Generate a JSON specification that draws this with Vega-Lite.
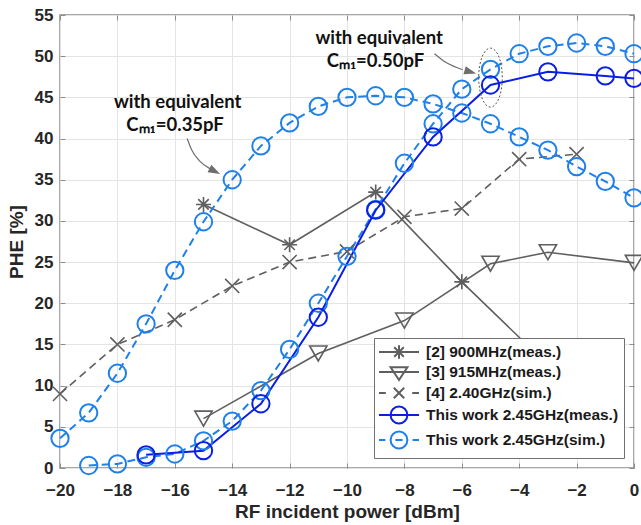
{
  "$schema": "https://vega.github.io/schema/vega-lite/v6.json",
  "width": 574,
  "height": 453,
  "autosize": "none",
  "padding": {"left": 60, "top": 15, "right": 7, "bottom": 57},
  "config": {
    "font": "Liberation Sans",
    "view": {"stroke": "#8c8c8c", "strokeWidth": 1.5},
    "axis": {
      "labelFont": "Liberation Sans", "labelFontSize": 17, "labelFontWeight": "bold", "labelColor": "#262626",
      "titleFont": "Liberation Sans", "titleFontSize": 19, "titleFontWeight": "bold", "titleColor": "#262626",
      "gridColor": "#e4e4e4", "gridWidth": 1, "gridOpacity": 1, "domain": false,
      "tickColor": "#8c8c8c", "tickSize": -5, "tickWidth": 1, "labelOverlap": false, "labelFlush": false
    },
    "legend": {
      "symbolOpacity": 1, "symbolStrokeWidth": 2, "symbolSize": 256, "symbolOffset": 11,
      "labelOffset": 18, "labelFont": "Liberation Sans", "labelFontSize": 15.5, "labelFontWeight": "bold",
      "labelColor": "#1a1a1a", "labelLimit": 400, "rowPadding": -1, "padding": 5,
      "fillColor": "white", "strokeColor": "#707070", "cornerRadius": 0
    }
  },
  "datasets": {
    "curves": [
      {"series": "[2] 900MHz(meas.)", "curve": "a", "x": -15, "y": 32.0},
      {"series": "[2] 900MHz(meas.)", "curve": "a", "x": -12, "y": 27.1},
      {"series": "[2] 900MHz(meas.)", "curve": "a", "x": -9, "y": 33.5},
      {"series": "[2] 900MHz(meas.)", "curve": "a", "x": -6, "y": 22.6},
      {"series": "[2] 900MHz(meas.)", "curve": "a", "x": -3, "y": 12.5},
      {"series": "[3] 915MHz(meas.)", "curve": "a", "x": -15, "y": 6.0},
      {"series": "[3] 915MHz(meas.)", "curve": "a", "x": -11, "y": 13.9},
      {"series": "[3] 915MHz(meas.)", "curve": "a", "x": -8, "y": 17.9},
      {"series": "[3] 915MHz(meas.)", "curve": "a", "x": -5, "y": 24.8},
      {"series": "[3] 915MHz(meas.)", "curve": "a", "x": -3, "y": 26.2},
      {"series": "[3] 915MHz(meas.)", "curve": "a", "x": 0, "y": 24.9},
      {"series": "[4] 2.40GHz(sim.)", "curve": "a", "x": -20, "y": 9.0},
      {"series": "[4] 2.40GHz(sim.)", "curve": "a", "x": -18, "y": 15.0},
      {"series": "[4] 2.40GHz(sim.)", "curve": "a", "x": -16, "y": 18.0},
      {"series": "[4] 2.40GHz(sim.)", "curve": "a", "x": -14, "y": 22.1},
      {"series": "[4] 2.40GHz(sim.)", "curve": "a", "x": -12, "y": 25.0},
      {"series": "[4] 2.40GHz(sim.)", "curve": "a", "x": -10, "y": 26.3},
      {"series": "[4] 2.40GHz(sim.)", "curve": "a", "x": -8, "y": 30.5},
      {"series": "[4] 2.40GHz(sim.)", "curve": "a", "x": -6, "y": 31.5},
      {"series": "[4] 2.40GHz(sim.)", "curve": "a", "x": -4, "y": 37.5},
      {"series": "[4] 2.40GHz(sim.)", "curve": "a", "x": -2, "y": 38.1},
      {"series": "This work 2.45GHz(meas.)", "curve": "a", "x": -17, "y": 1.6},
      {"series": "This work 2.45GHz(meas.)", "curve": "a", "x": -15, "y": 2.1},
      {"series": "This work 2.45GHz(meas.)", "curve": "a", "x": -13, "y": 7.8},
      {"series": "This work 2.45GHz(meas.)", "curve": "a", "x": -11, "y": 18.3},
      {"series": "This work 2.45GHz(meas.)", "curve": "a", "x": -9, "y": 31.3},
      {"series": "This work 2.45GHz(meas.)", "curve": "a", "x": -7, "y": 40.2},
      {"series": "This work 2.45GHz(meas.)", "curve": "a", "x": -5, "y": 46.5},
      {"series": "This work 2.45GHz(meas.)", "curve": "a", "x": -3, "y": 48.1},
      {"series": "This work 2.45GHz(meas.)", "curve": "a", "x": -1, "y": 47.6},
      {"series": "This work 2.45GHz(meas.)", "curve": "a", "x": 0, "y": 47.3},
      {"series": "This work 2.45GHz(sim.)", "curve": "0.50pF", "x": -19, "y": 0.3},
      {"series": "This work 2.45GHz(sim.)", "curve": "0.50pF", "x": -18, "y": 0.5},
      {"series": "This work 2.45GHz(sim.)", "curve": "0.50pF", "x": -17, "y": 1.3},
      {"series": "This work 2.45GHz(sim.)", "curve": "0.50pF", "x": -16, "y": 1.7},
      {"series": "This work 2.45GHz(sim.)", "curve": "0.50pF", "x": -15, "y": 3.3},
      {"series": "This work 2.45GHz(sim.)", "curve": "0.50pF", "x": -14, "y": 5.7},
      {"series": "This work 2.45GHz(sim.)", "curve": "0.50pF", "x": -13, "y": 9.4},
      {"series": "This work 2.45GHz(sim.)", "curve": "0.50pF", "x": -12, "y": 14.4},
      {"series": "This work 2.45GHz(sim.)", "curve": "0.50pF", "x": -11, "y": 20.0},
      {"series": "This work 2.45GHz(sim.)", "curve": "0.50pF", "x": -10, "y": 25.7},
      {"series": "This work 2.45GHz(sim.)", "curve": "0.50pF", "x": -9, "y": 31.4},
      {"series": "This work 2.45GHz(sim.)", "curve": "0.50pF", "x": -8, "y": 37.0},
      {"series": "This work 2.45GHz(sim.)", "curve": "0.50pF", "x": -7, "y": 41.8},
      {"series": "This work 2.45GHz(sim.)", "curve": "0.50pF", "x": -6, "y": 46.0},
      {"series": "This work 2.45GHz(sim.)", "curve": "0.50pF", "x": -5, "y": 48.4},
      {"series": "This work 2.45GHz(sim.)", "curve": "0.50pF", "x": -4, "y": 50.3},
      {"series": "This work 2.45GHz(sim.)", "curve": "0.50pF", "x": -3, "y": 51.2},
      {"series": "This work 2.45GHz(sim.)", "curve": "0.50pF", "x": -2, "y": 51.6},
      {"series": "This work 2.45GHz(sim.)", "curve": "0.50pF", "x": -1, "y": 51.2},
      {"series": "This work 2.45GHz(sim.)", "curve": "0.50pF", "x": 0, "y": 50.3},
      {"series": "This work 2.45GHz(sim.)", "curve": "0.35pF", "x": -20, "y": 3.6},
      {"series": "This work 2.45GHz(sim.)", "curve": "0.35pF", "x": -19, "y": 6.7},
      {"series": "This work 2.45GHz(sim.)", "curve": "0.35pF", "x": -18, "y": 11.5},
      {"series": "This work 2.45GHz(sim.)", "curve": "0.35pF", "x": -17, "y": 17.5},
      {"series": "This work 2.45GHz(sim.)", "curve": "0.35pF", "x": -16, "y": 24.0},
      {"series": "This work 2.45GHz(sim.)", "curve": "0.35pF", "x": -15, "y": 29.9},
      {"series": "This work 2.45GHz(sim.)", "curve": "0.35pF", "x": -14, "y": 35.0},
      {"series": "This work 2.45GHz(sim.)", "curve": "0.35pF", "x": -13, "y": 39.1},
      {"series": "This work 2.45GHz(sim.)", "curve": "0.35pF", "x": -12, "y": 41.9},
      {"series": "This work 2.45GHz(sim.)", "curve": "0.35pF", "x": -11, "y": 43.9},
      {"series": "This work 2.45GHz(sim.)", "curve": "0.35pF", "x": -10, "y": 45.0},
      {"series": "This work 2.45GHz(sim.)", "curve": "0.35pF", "x": -9, "y": 45.2},
      {"series": "This work 2.45GHz(sim.)", "curve": "0.35pF", "x": -8, "y": 45.0},
      {"series": "This work 2.45GHz(sim.)", "curve": "0.35pF", "x": -7, "y": 44.2},
      {"series": "This work 2.45GHz(sim.)", "curve": "0.35pF", "x": -6, "y": 43.1},
      {"series": "This work 2.45GHz(sim.)", "curve": "0.35pF", "x": -5, "y": 41.8},
      {"series": "This work 2.45GHz(sim.)", "curve": "0.35pF", "x": -4, "y": 40.2},
      {"series": "This work 2.45GHz(sim.)", "curve": "0.35pF", "x": -3, "y": 38.6},
      {"series": "This work 2.45GHz(sim.)", "curve": "0.35pF", "x": -2, "y": 36.6},
      {"series": "This work 2.45GHz(sim.)", "curve": "0.35pF", "x": -1, "y": 34.8},
      {"series": "This work 2.45GHz(sim.)", "curve": "0.35pF", "x": 0, "y": 32.8}
    ],
    "arrow1": [
      {"x": -15.57, "y": 40.0},
      {"x": -15.41, "y": 38.6},
      {"x": -15.13, "y": 37.26},
      {"x": -14.78, "y": 36.35}
    ],
    "head1": [{"x": -14.42, "y": 35.7}],
    "arrow2": [
      {"x": -6.95, "y": 50.3},
      {"x": -6.56, "y": 49.25},
      {"x": -5.97, "y": 48.35}
    ],
    "head2": [{"x": -5.5, "y": 47.9}],
    "ellipse": [{"x": -5, "y": 47.4}],
    "notes": [
      {"x": -15.9, "y": 43.7, "text": "with equivalent"},
      {"x": -15.99, "y": 40.95, "text": "Cₘ₁=0.35pF"},
      {"x": -8.88, "y": 51.48, "text": "with equivalent"},
      {"x": -9.01, "y": 48.72, "text": "Cₘ₁=0.50pF"}
    ]
  },
  "data": {"name": "curves"},
  "encoding": {
    "x": {"field": "x", "type": "quantitative", "scale": {"domain": [-20, 0], "nice": false, "zero": false}, "axis": null},
    "y": {"field": "y", "type": "quantitative", "scale": {"domain": [0, 55], "nice": false, "zero": false}, "axis": null}
  },
  "resolve": {"axis": {"x": "independent", "y": "independent"}},
  "layer": [
    {
      "transform": [{"filter": {"field": "series", "oneOf": ["[2] 900MHz(meas.)", "[3] 915MHz(meas.)"]}}],
      "mark": {"type": "line", "color": "#5f5f5f", "strokeWidth": 1.6},
      "encoding": {
        "detail": {"field": "series"},
        "x": {"field": "x", "type": "quantitative", "scale": {"domain": [-20, 0], "nice": false, "zero": false},
          "axis": {"values": [-20, -18, -16, -14, -12, -10, -8, -6, -4, -2, 0], "title": "RF incident power [dBm]", "labelPadding": 19, "titlePadding": 4}},
        "y": {"field": "y", "type": "quantitative", "scale": {"domain": [0, 55], "nice": false, "zero": false},
          "axis": {"values": [0, 5, 10, 15, 20, 25, 30, 35, 40, 45, 50, 55], "title": "PHE [%]", "labelPadding": 12, "titlePadding": 8}}
      }
    },
    {
      "transform": [{"filter": {"field": "series", "equal": "[4] 2.40GHz(sim.)"}}],
      "mark": {"type": "line", "color": "#5f5f5f", "strokeWidth": 1.6, "strokeDash": [8, 5]}
    },
    {
      "transform": [{"filter": {"field": "series", "equal": "This work 2.45GHz(sim.)"}}],
      "mark": {"type": "line", "color": "#1f80ea", "strokeWidth": 2, "strokeDash": [8, 5]},
      "encoding": {"detail": {"field": "curve"}}
    },
    {
      "transform": [{"filter": {"field": "series", "equal": "This work 2.45GHz(meas.)"}}],
      "mark": {"type": "line", "color": "#0a1ee6", "strokeWidth": 2}
    },
    {
      "transform": [{"filter": {"field": "series", "equal": "[2] 900MHz(meas.)"}}],
      "mark": {"type": "point", "filled": false, "color": "#5f5f5f", "strokeWidth": 1.6, "size": 225, "opacity": 1,
        "shape": "M-1,0H1M0,-1V1M-0.7,-0.7L0.7,0.7M-0.7,0.7L0.7,-0.7"}
    },
    {
      "transform": [{"filter": {"field": "series", "equal": "[3] 915MHz(meas.)"}}],
      "mark": {"type": "point", "filled": false, "color": "#5f5f5f", "strokeWidth": 1.6, "size": 300, "opacity": 1, "shape": "triangle-down"}
    },
    {
      "transform": [{"filter": {"field": "series", "equal": "[4] 2.40GHz(sim.)"}}],
      "mark": {"type": "point", "filled": false, "color": "#5f5f5f", "strokeWidth": 1.6, "size": 200, "opacity": 1,
        "shape": "M-1,-1L1,1M-1,1L1,-1"}
    },
    {
      "transform": [{"filter": {"field": "series", "equal": "This work 2.45GHz(sim.)"}}],
      "mark": {"type": "point", "filled": false, "color": "#1f80ea", "strokeWidth": 2, "size": 300, "opacity": 1, "shape": "circle"}
    },
    {
      "transform": [{"filter": {"field": "series", "equal": "This work 2.45GHz(meas.)"}}],
      "mark": {"type": "point", "filled": false, "color": "#0a1ee6", "strokeWidth": 2, "size": 300, "opacity": 1, "shape": "circle"}
    },
    {
      "data": {"name": "arrow1"},
      "mark": {"type": "line", "color": "#6e6e6e", "strokeWidth": 1.2, "interpolate": "monotone"}
    },
    {
      "data": {"name": "arrow2"},
      "mark": {"type": "line", "color": "#6e6e6e", "strokeWidth": 1.2, "interpolate": "monotone"}
    },
    {
      "data": {"name": "head1"},
      "mark": {"type": "point", "filled": true, "color": "#6e6e6e", "opacity": 1, "size": 144, "angle": 27,
        "shape": "M0,0L-2,-0.7L-2,0.7Z"}
    },
    {
      "data": {"name": "head2"},
      "mark": {"type": "point", "filled": true, "color": "#6e6e6e", "opacity": 1, "size": 144, "angle": 16,
        "shape": "M0,0L-2,-0.7L-2,0.7Z"}
    },
    {
      "data": {"name": "ellipse"},
      "mark": {"type": "point", "filled": false, "color": "#555555", "opacity": 1, "strokeWidth": 1, "strokeDash": [2, 2], "size": 3481,
        "shape": "M-0.4,0A0.4,1 0 1,0 0.4,0A0.4,1 0 1,0 -0.4,0Z"},
      "encoding": {
        "x": {"field": "x", "type": "quantitative", "scale": {"domain": [-20, 0], "nice": false, "zero": false},
          "axis": {"orient": "top", "values": [-20, -18, -16, -14, -12, -10, -8, -6, -4, -2, 0], "labels": false, "title": null, "grid": false}},
        "y": {"field": "y", "type": "quantitative", "scale": {"domain": [0, 55], "nice": false, "zero": false},
          "axis": {"orient": "right", "values": [0, 5, 10, 15, 20, 25, 30, 35, 40, 45, 50, 55], "labels": false, "title": null, "grid": false}}
      }
    },
    {
      "data": {"name": "notes"},
      "mark": {"type": "text", "font": "Lato", "fontWeight": "bold", "fontSize": 18.5, "color": "#111111", "align": "center", "baseline": "alphabetic"},
      "encoding": {"text": {"field": "text"}}
    },
    {
      "mark": {"type": "point", "filled": false, "opacity": 0},
      "encoding": {
        "color": {"field": "series", "type": "nominal",
          "scale": {"domain": ["[2] 900MHz(meas.)", "[3] 915MHz(meas.)", "[4] 2.40GHz(sim.)", "This work 2.45GHz(meas.)", "This work 2.45GHz(sim.)"],
                    "range": ["#5f5f5f", "#5f5f5f", "#5f5f5f", "#0a1ee6", "#1f80ea"]},
          "legend": {"title": null, "orient": "bottom-right", "offset": 10}},
        "shape": {"field": "series", "type": "nominal",
          "scale": {"domain": ["[2] 900MHz(meas.)", "[3] 915MHz(meas.)", "[4] 2.40GHz(sim.)", "This work 2.45GHz(meas.)", "This work 2.45GHz(sim.)"],
                    "range": [
                      "M-2.5,0H2.5M0,-0.85V0.85M-0.85,0H0.85M-0.6,-0.6L0.6,0.6M-0.6,0.6L0.6,-0.6",
                      "M-2.5,0H2.5M-1.05,-0.6L1.05,-0.6L0,1Z",
                      "M-2.5,0H-1.65M-0.65,-0.65L0.65,0.65M-0.65,0.65L0.65,-0.65M1.65,0H2.5",
                      "M-2.5,0H2.5M-1.05,0A1.05,1.05 0 1,0 1.05,0A1.05,1.05 0 1,0 -1.05,0",
                      "M-2.5,0H-1.7M-1.05,0A1.05,1.05 0 1,0 1.05,0A1.05,1.05 0 1,0 -1.05,0M-0.45,0H0.45M1.7,0H2.5"
                    ]},
          "legend": {"title": null, "orient": "bottom-right", "offset": 10}}
      }
    }
  ]
}
